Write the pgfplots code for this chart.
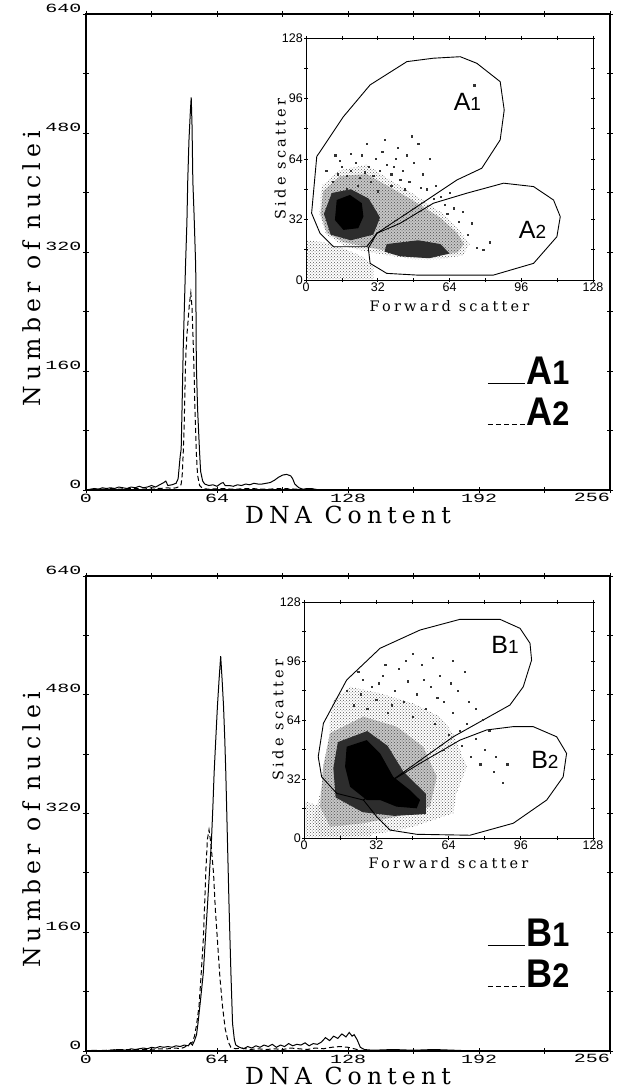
\documentclass[border=0pt]{standalone}
\usepackage{fontspec}
\setmainfont{Liberation Serif}
\newfontfamily\labfont[LetterSpace=22]{DejaVu Serif}
\newfontfamily\tickfont{Liberation Mono}
\newfontfamily\sansfont{Liberation Sans}
\usepackage{graphicx}
\usepackage{pgfplots}
\pgfplotsset{compat=1.18}
\usetikzlibrary{patterns}

\newcommand{\mainlab}{\labfont\fontsize{23.5}{28}\selectfont}
\newcommand{\insetlab}{\labfont\fontsize{14.5}{18}\selectfont}
\newcommand{\mtick}[1]{\scalebox{1.6}[1]{\tickfont\fontsize{12.5}{14}\selectfont #1}}
\newcommand{\stick}[1]{{\sansfont\fontsize{12.5}{13}\selectfont #1}}
\newcommand{\gatelab}[2]{{\sansfont\fontsize{25}{25}\selectfont #1{\fontsize{19}{19}\selectfont #2}}}
\newcommand{\leglab}[2]{\scalebox{0.9}[1]{\sansfont\bfseries\fontsize{40}{40}\selectfont #1{\fontsize{34}{34}\selectfont #2}}}

\pgfplotsset{
  histo/.style={
    scale only axis, width=524pt, anchor=south west,
    xmin=0, xmax=256, ymin=0, ymax=640,
    xtick={0,64,128,192}, minor xtick={32,96,...,224},
    extra x ticks={256},
    extra x tick style={xticklabel style={anchor=north east, inner sep=0pt}},
    ytick={0,160,...,640}, minor ytick={80,240,...,560},
    tick align=center, major tick length=6pt, minor tick length=6pt,
    every tick/.style={black, line width=0.9pt},
    axis line style={line width=1.1pt},
    /pgf/number format/assume math mode=true,
    xticklabel={\mtick{\pgfmathprintnumber{\tick}}},
    yticklabel={\mtick{\pgfmathprintnumber{\tick}}},
    xticklabel style={anchor=north, inner sep=1pt},
    yticklabel style={anchor=south east, inner sep=1.5pt},
    xlabel={DNA Content}, ylabel={Number of nuclei},
    label style={font=\mainlab},
    xlabel style={at={(axis description cs:0.5,-0.034)}, anchor=north, inner sep=0pt},
    ylabel style={at={(axis description cs:-0.085,0.465)}, anchor=south, inner sep=0pt},
    legend image code/.code={\path[draw=none, fill=none] (0pt,-14pt) rectangle (37pt,14pt);
      \draw[#1] (0pt,-12pt) -- (37pt,-12pt);},
    legend cell align=left,
    legend style={draw=none, fill=none, anchor=north west, at={(axis cs:196,180)},
      inner sep=0pt, row sep=10pt, nodes={inner sep=1pt}},
  },
  scatin/.style={
    scale only axis, anchor=south west,
    xmin=0, xmax=128, ymin=0, ymax=128,
    xtick={0,32,...,128}, ytick={0,32,...,128}, minor tick num=1,
    tick align=center, major tick length=4pt, minor tick length=4pt,
    every tick/.style={black, line width=0.6pt},
    axis line style={line width=0.8pt},
    axis background/.style={fill=white},
    /pgf/number format/assume math mode=true,
    xticklabel={\stick{\pgfmathprintnumber{\tick}}},
    yticklabel={\stick{\pgfmathprintnumber{\tick}}},
    ticklabel style={inner sep=1pt},
    xlabel={Forward scatter}, ylabel={Side scatter},
    label style={font=\insetlab},
    xlabel style={at={(axis description cs:0.5,-0.083)}, anchor=north, inner sep=0pt},
    ylabel style={at={(axis description cs:-0.07,0.5)}, anchor=south, inner sep=0pt},
  },
  solidh/.style={black, line width=1pt},
  dashh/.style={black, line width=1pt, dash pattern=on 5pt off 3pt},
  gate/.style={black, line width=0.9pt},
  lightd/.style={draw=none, pattern=crosshatch dots, pattern color=gray!70!black},
  midd/.style={draw=none, fill=gray!45, postaction={pattern=crosshatch dots, pattern color=gray!60!black}},
  darkm/.style={draw=none, fill=gray!35!black},
  core/.style={draw=none, fill=black},
  sparse/.style={only marks, mark=square*, mark size=0.6pt, gray!40!black},
}

\begin{document}
\begin{tikzpicture}
\useasboundingbox (0,0) rectangle (618pt,1089pt);

% ---------- upper panel ----------
\begin{axis}[histo, at={(86pt,599pt)}, height=476pt]
\addplot[solidh] coordinates {
(0,0) (2,1) (4,2) (6,1) (8,3) (10,2) (12,3) (14,2) (16,4) (18,3) (20,2) (22,4) (24,3)
(26,5) (28,3) (30,4) (32,6) (34,4) (36,7) (38,10) (39,12) (40,6) (42,7) (44,9) (45,15)
(46,45) (46.5,55) (47,120) (47.5,190) (48,240) (48.6,300) (49.3,360) (49.7,415)
(50.3,470) (51,510) (51.4,528) (51.8,490) (52.2,415) (52.8,370) (53.6,300) (53.9,170)
(54.5,110) (55.5,50) (56,25) (57,12) (58,8) (60,6) (62,7) (64,5) (66,9) (67,10) (68,6)
(70,6) (72,5) (74,7) (76,6) (78,8) (80,7) (82,9) (84,8) (86,8) (88,9) (90,10) (92,13)
(94,17) (96,20) (98,21) (100,19) (101,15) (102,8) (104,3) (106,1) (108,2) (110,2)
(112,1) (114,0) (256,0)};
\addlegendentry{\leglab{A}{1}}
\addplot[dashh] coordinates {
(0,0) (4,1) (8,1) (12,2) (16,1) (20,2) (24,2) (28,1) (32,3) (36,2) (40,3) (42,2) (44,3)
(46,5) (46.5,8) (47,20) (47.5,50) (48,90) (48.6,170) (49.2,205) (49.8,225) (50.5,250)
(51.2,265) (51.8,245) (52.3,205) (52.7,170) (53.3,100) (53.9,50) (54.5,20) (55.5,6)
(57,2) (60,1) (66,2) (72,1) (80,2) (88,1) (96,2) (104,1) (110,0) (256,0)};
\addlegendentry{\leglab{A}{2}}
\end{axis}

\begin{axis}[scatin, at={(306pt,809pt)}, width=287pt, height=242pt]
\addplot[lightd] coordinates {
(0.5,0.5) (30,0.5) (30,8) (24,13) (16,17) (8,20) (0.5,21)} -- cycle;
\addplot[lightd] coordinates {
(6,35) (7,50) (15,58) (27,61) (36,54) (46,47) (60,36) (68,27) (73,19) (70,13)
(60,11) (48,11) (37,13) (27,15) (17,18) (9,24)} -- cycle;
\addplot[midd] coordinates {
(7.7,47) (15.2,55) (27.1,56) (36,50) (46.4,43) (59.8,33) (67.3,25) (70.5,19)
(67.5,14.5) (59.8,13) (47.9,13) (37.5,15) (27.1,17.5) (16.7,20) (9.2,25) (6.5,35)} -- cycle;
\addplot[darkm] coordinates {
(11.5,46) (20,48) (28,43) (33,33) (30,24) (20,21) (11,24) (8,35)} -- cycle;
\addplot[darkm] coordinates {
(36,19) (50,21) (60,19) (64,14) (55,11.5) (42,12.5) (35,15)} -- cycle;
\addplot[core] coordinates {
(13.7,42.3) (19.6,45) (24.9,40.6) (25.6,33.5) (23.3,27.4) (16.7,26.5) (12.9,31.7)} -- cycle;
\addplot[sparse] coordinates {
(12,52) (14,56) (16,60) (15,63) (18,55) (20,58) (22,62) (24,54) (26,57) (25,66) (28,60)
(30,55) (31,64) (33,58) (34,68) (36,61) (38,56) (40,64) (41,70) (43,58) (45,66) (46,52)
(48,62) (50,72) (52,56) (54,48) (55,64) (58,50) (60,44) (62,40) (64,46) (66,38) (70,36)
(74,30) (76,17) (79,16) (82,20) (44,48) (38,50) (20,67) (27,72) (35,74) (47,76)
(75,103) (18,48) (9,58) (13,66) (23,50) (29,52) (32,47) (39,60) (42,53) (51,49) (57,43)
(63,35) (68,31) (72,24)};
\addplot[gate] coordinates {
(2.5,35.3) (4.8,65.3) (16.7,86.4) (28.6,103.2) (45,115.5) (56.8,117.3) (68.8,118.1)
(76.2,114.6) (86.6,104.9) (88.4,89.9) (86.6,74.1) (78.4,59.1) (67.3,52.9) (31.6,24.7)
(27.1,17.6) (12.2,17.6) (6.25,24.7)} -- cycle;
\addplot[gate] coordinates {
(31.6,24.7) (42,30) (56.8,40.6) (71.7,45.9) (88.1,51.2) (101.5,49.4) (110.4,42.3)
(113.4,33.5) (111.9,22.9) (101.5,8.8) (83.6,2.6) (49.4,2.6) (36,3.5) (28.6,8.8)
(27.8,16.8)} -- cycle;
\node at (axis cs:72,94) {\gatelab{A}{1}};
\node at (axis cs:101,26.5) {\gatelab{A}{2}};
\end{axis}

% ---------- lower panel ----------
\begin{axis}[histo, at={(86pt,38pt)}, height=475pt]
\addplot[solidh] coordinates {
(0,0) (4,1) (8,0) (12,1) (16,2) (20,1) (22,3) (24,2) (26,3) (28,4) (30,3) (32,5) (34,4)
(36,6) (38,5) (40,6) (42,5) (44,7) (46,6) (48,8) (50,7) (51,11) (52,8) (53,14) (54,22)
(54.7,37) (56,70) (57.3,105) (58.3,150) (59.3,194) (60.3,240) (61.3,284) (62,330)
(62.6,375) (63.4,420) (64.2,464) (65,500) (65.8,532) (66.5,500) (67.2,464) (67.8,420)
(68.3,375) (69.1,284) (69.9,194) (70.8,105) (71.6,37) (72.5,15) (73.2,8) (75,5) (77,3)
(79,6) (81,4) (83,7) (85,5) (87,8) (89,6) (91,9) (93,5) (95,8) (97,6) (99,10) (101,7)
(103,9) (105,8) (107,11) (109,7) (111,10) (113,9) (115,12) (117,18) (119,14) (121,20)
(123,17) (125,23) (127,19) (128.6,25) (130,20) (131,22) (132.5,15) (134,5) (136,2)
(140,1) (150,2) (160,1) (170,2) (180,1) (190,0) (256,0)};
\addlegendentry{\leglab{B}{1}}
\addplot[dashh] coordinates {
(0,0) (10,1) (20,2) (30,2) (36,3) (40,3) (44,4) (46,3) (48,5) (50,8) (52,12) (53,20)
(54,35) (55.2,60) (56.3,105) (57.3,150) (58,200) (58.5,240) (59.3,285) (60.1,298)
(61,280) (62.3,240) (63.2,190) (64.2,150) (65.4,100) (66.7,60) (68,30) (69.5,12)
(70.8,5) (73,3) (76,4) (80,2) (84,3) (88,2) (92,3) (96,2) (100,4) (104,3) (108,2)
(112,4) (116,3) (120,5) (124,6) (128,5) (131,3) (134,1) (140,0) (256,0)};
\addlegendentry{\leglab{B}{2}}
\end{axis}

\begin{axis}[scatin, at={(304pt,251pt)}, width=289pt, height=236pt]
\addplot[lightd] coordinates {
(0.5,0.5) (30,0.5) (30,6) (20,10) (10,16) (0.5,20)} -- cycle;
\addplot[lightd] coordinates {
(13,74.8) (20.4,82) (33.7,78.5) (48.4,73) (60.2,65.8) (66.1,56.8) (72.1,38.7)
(67.6,24.2) (66.1,13.4) (48.4,6.1) (33.7,2.5) (18.9,0.7) (7.1,0.7) (4.1,9.8)
(7.1,24.2) (11.5,42.3) (11.5,64)} -- cycle;
\addplot[midd] coordinates {
(11.5,56.8) (26.3,65.8) (41,60.4) (52.8,49.5) (58.8,33.2) (55.8,17) (41,11.6)
(26.3,8) (11.5,6.1) (7.1,17) (8.5,38.7)} -- cycle;
\addplot[darkm] coordinates {
(15,52) (28,58) (37,50) (44,36) (54,24) (54,13) (40,12) (26,14) (14,22) (13,38)} -- cycle;
\addplot[core] coordinates {
(18.9,49.5) (27.8,53.1) (33.7,45.9) (39.5,33.2) (46.9,26) (51.4,20.6) (49.9,16.1)
(41,17) (33.7,20.6) (27.8,20.6) (20.4,27.8) (18.2,38.7)} -- cycle;
\addplot[sparse] coordinates {
(22,72) (25,78) (28,70) (30,82) (32,75) (35,88) (37,68) (40,80) (42,92) (44,74) (46,85)
(48,66) (50,78) (52,94) (54,70) (56,82) (58,62) (60,88) (62,74) (64,56) (66,68) (68,80)
(70,50) (72,62) (74,44) (76,54) (78,40) (80,48) (84,36) (88,30) (71,90) (76,70) (82,58)
(57,98) (48,100) (36,94) (26,86) (66,96) (62,48) (90,40) (19,80) (24,90) (33,84) (39,72)
(45,96) (53,86) (59,76) (65,84) (69,58) (73,74) (79,64) (85,44)};
\addplot[gate] coordinates {
(6.3,44.1) (8.6,62.2) (18.9,85.7) (33.7,102.9) (51.4,112.8) (69.1,118.6) (86.8,118.6)
(95.7,113.7) (100.1,105.6) (100.8,96.5) (97.1,82) (91.2,72.1) (66.1,54.9) (38.1,30.5)
(26.3,20.6) (14.5,24.2) (7.8,33.2)} -- cycle;
\addplot[gate] coordinates {
(38.1,30.5) (51.4,40.5) (69.1,53.1) (80.9,58.6) (92.7,60.4) (101.5,60.4) (111.9,54.9)
(116.3,45.9) (114.8,33.2) (107.5,20.6) (92.7,8) (73.5,1.5) (50,2) (38.1,4.3)
(32.2,11.6) (26.3,20.6)} -- cycle;
\node at (axis cs:89,104.7) {\gatelab{B}{1}};
\node at (axis cs:106.7,42.3) {\gatelab{B}{2}};
\end{axis}
\end{tikzpicture}
\end{document}
